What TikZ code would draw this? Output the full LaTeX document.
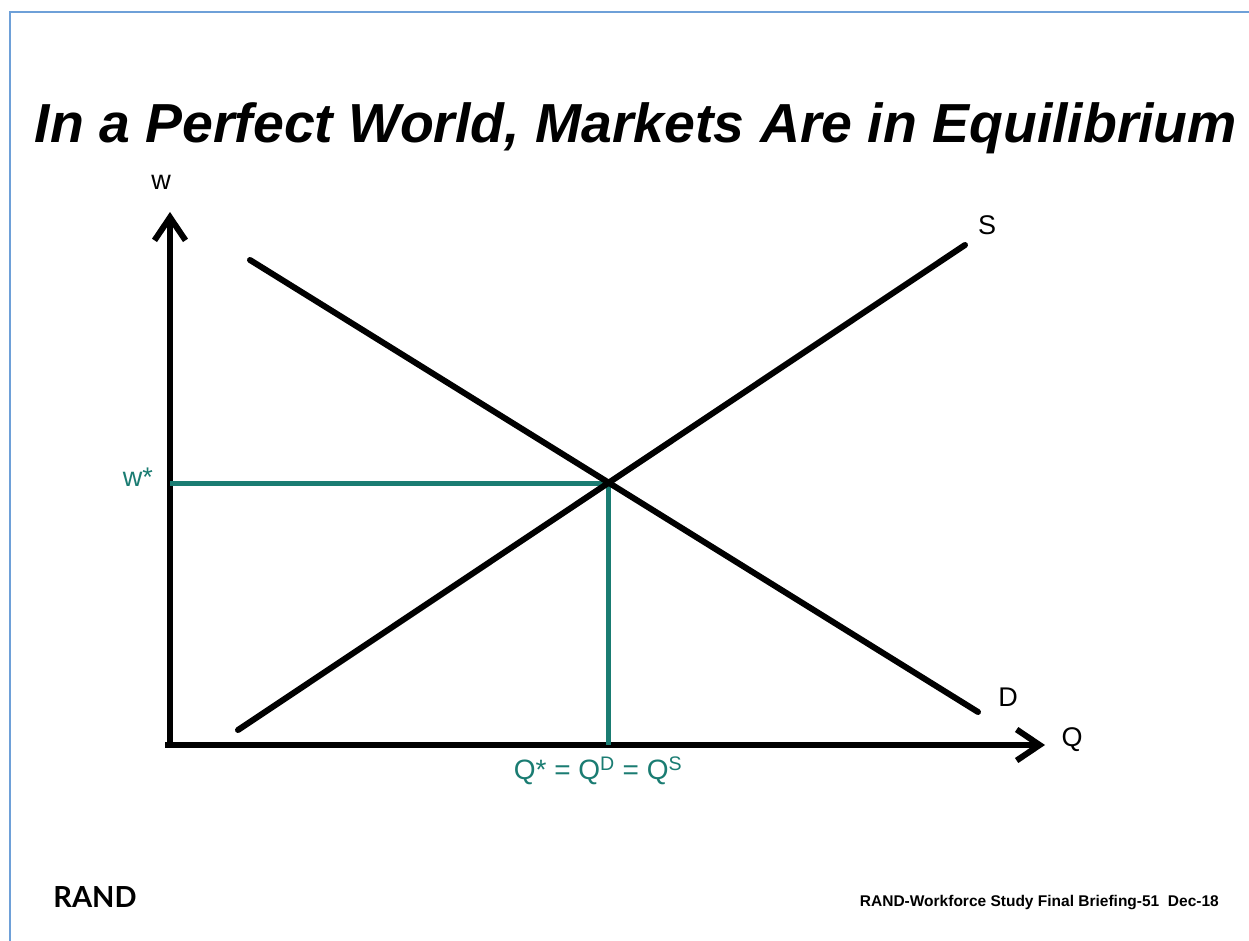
\documentclass[tikz,border=0pt]{standalone}
\usepackage{fontspec}
\setmainfont{Liberation Sans}
\newfontfamily\randfont{Lato}
\usetikzlibrary{arrows.meta}
\definecolor{teal1}{RGB}{26,124,114}
\definecolor{bordercol}{RGB}{110,160,216}
\tikzset{
  axis/.style={line width=6pt, -{Straight Barb[length=23pt,width=31pt]}},
  curve/.style={line width=6pt, line cap=round},
  guide/.style={teal1, line width=5pt},
  lab/.style={inner sep=0pt, font=\fontsize{27}{30}\selectfont},
  tlab/.style={lab, text=teal1},
}
\begin{document}
\begin{tikzpicture}[x=1pt,y=-1pt]
\useasboundingbox[fill=white] (0,0) rectangle (1249,941);
\draw[bordercol, line width=2.5pt] (1260,12) -- (10,12) -- (10,950);
\node[inner sep=0pt, anchor=base] (title) at (636,143) {\resizebox{1202pt}{\height}{\fontsize{55}{60}\selectfont\bfseries\itshape In a Perfect World, Markets Are in Equilibrium}};
% axes
\coordinate (O) at (170,745);
\coordinate (ytip) at (170,212);
\coordinate (xtip) at (1045,745);
\draw[axis] (O) -- (ytip);
\draw[axis] (165,745) coordinate (xstart) -- (xtip);
% curves
\coordinate (s0) at (238,730);
\coordinate (s1) at (965,245);
\coordinate (d0) at (250,260);
\coordinate (d1) at (978,712);
\coordinate (E) at (608,483);
\coordinate (wpt) at (170,483);
\coordinate (qpt) at (608,745);
\draw[guide] (wpt) -- (E) -- (qpt);
\draw[curve] (s0) -- (s1);
\draw[curve] (d0) -- (d1);
% labels
\node[lab] (wl) at (161,182) {w};
\node[lab] (Sl) at (987,225) {S};
\node[lab] (Dl) at (1008,697) {D};
\node[lab] (Ql) at (1072,740) {Q};
\node[tlab, anchor=east] (wstar) at (153,477) {w*};
\node[tlab, font=\fontsize{28}{30}\selectfont] (qstar) at (598,771) {Q* = Q\textsuperscript{D} = Q\textsuperscript{S}};
\node[inner sep=0pt, font=\randfont\bfseries\fontsize{29}{30}\selectfont] (rand) at (95,897) {RAND};
\node[inner sep=0pt, anchor=east, font=\bfseries\fontsize{15.5}{17}\selectfont] (foot) at (1219,903) {RAND-Workforce Study Final Briefing-51\ \ Dec-18};
\end{tikzpicture}
\end{document}
